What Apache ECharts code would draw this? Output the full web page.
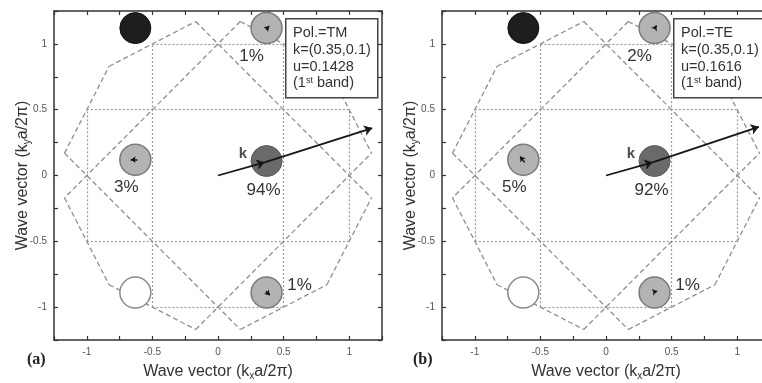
<!DOCTYPE html>
<html>
<head>
<meta charset="utf-8">
<script src="https://cdn.jsdelivr.net/npm/echarts@6/dist/echarts.min.js"></script>
<style>
html, body { margin: 0; padding: 0; background: #fff; }
#chart { width: 762px; height: 383px; }
</style>
</head>
<body>
<div id="chart"></div>
<script>
// circle centres (k + G), same in both panels
const circleX = [-0.63, 0.37, 0.37, -0.63, -0.63, 0.37]
const circleY = [1.12, 1.12, 0.11, 0.12, -0.89, -0.89]
const circleKind = ['black', 'gray', 'dark', 'gray', 'white', 'gray']
const pctA = ['', '1%', '94%', '3%', '', '1%']
const pctB = ['', '2%', '92%', '5%', '', '1%']
const infoA = ['Pol.=TM', 'k=(0.35,0.1)', 'u=0.1428', '(1st band)']
const infoB = ['Pol.=TE', 'k=(0.35,0.1)', 'u=0.1616', '(1st band)']
const kPoint = [0.355, 0.1]
const kLabel = [0.19, 0.165]
const arrowTipA = [1.175, 0.36]
const arrowTipB = [1.165, 0.37]
// little arrows inside the grey circles: [x0, y0, x1, y1]
const smallArrowsA = [[0.365, 1.11, 0.39, 1.135], [-0.615, 0.12, -0.665, 0.12], [0.365, -0.88, 0.395, -0.91]]
const smallArrowsB = [[0.37, 1.115, 0.385, 1.14], [-0.62, 0.1, -0.655, 0.145], [0.365, -0.885, 0.39, -0.88]]
const tickLabels = [-1, -0.5, 0, 0.5, 1]
// dotted zone boundaries: [x0, y0, x1, y1]
const dotted = [
    [-1, -0.5, -1, 0.5], [-0.5, -1, -0.5, 1], [0.5, -1, 0.5, 1], [1, -0.5, 1, 0.5],
    [-0.5, 1, 0.5, 1], [-1, 0.5, 1, 0.5], [-1, -0.5, 1, -0.5], [-0.5, -1, 0.5, -1]
]
// dashed polygon lines
const dashed = [
    [-1.17, 0.17, -0.83, 0.83], [-0.83, 0.83, -0.17, 1.17], [-0.17, 1.17, 1.17, -0.17],
    [0.17, 1.17, -1.17, -0.17], [-1.17, 0.17, 0.17, -1.17], [-1.17, -0.17, -0.83, -0.83],
    [-0.83, -0.83, -0.17, -1.17], [-0.17, -1.17, 1.17, 0.17], [0.17, -1.17, 0.83, -0.83],
    [0.83, -0.83, 1.17, -0.17], [0.17, 1.17, 0.83, 0.83], [0.83, 0.83, 1.17, 0.17]
]

const FONT = 'Liberation Sans, Arial, sans-serif'
const circleStyle = {
    black: {color: '#1e1e1e', borderColor: '#111', borderWidth: 1, opacity: 1},
    gray: {color: '#b3b3b3', borderColor: '#7a7a7a', borderWidth: 1.5, opacity: 1},
    dark: {color: '#6a6a6a', borderColor: '#5a5a5a', borderWidth: 1, opacity: 1},
    white: {color: '#fff', borderColor: '#8a8a8a', borderWidth: 1.5, opacity: 1}
}
const pctOffset = [[0, 0], [-15, 28], [-3, 29], [-9, 28], [0, 0], [33, -7]]

function axes(gi) {
    const common = {
        gridIndex: gi, type: 'value', min: -1.25, max: 1.25, interval: 0.25,
        axisLine: {show: true, onZero: false, lineStyle: {color: '#333', width: 1.5}},
        axisTick: {show: true, inside: true, length: 4, lineStyle: {color: '#333', width: 1.2}},
        splitLine: {show: false}
    }
    const lab = {
        margin: 7, fontSize: 10, color: '#555', fontFamily: FONT,
        formatter: v => tickLabels.includes(v) ? String(v) : ''
    }
    const nameStyle = {
        rich: {
            a: {fontSize: 16, color: '#333', fontFamily: FONT},
            s: {fontSize: 10, color: '#333', fontFamily: FONT, padding: [8, 0, 0, 0]}
        }
    }
    return {
        x: [
            Object.assign({}, common, {
                position: 'bottom', axisLabel: lab,
                name: '{a|Wave vector (k}{s|x}{a|a/2π)}', nameLocation: 'middle', nameGap: 23,
                nameMoveOverlap: false, nameTextStyle: nameStyle
            }),
            Object.assign({}, common, {position: 'top', axisLabel: {show: false}})
        ],
        y: [
            Object.assign({}, common, {
                position: 'left', axisLabel: lab,
                name: '{a|Wave vector (k}{s|y}{a|a/2π)}', nameLocation: 'middle', nameGap: 22,
                nameRotate: 90, nameMoveOverlap: false, nameTextStyle: nameStyle
            }),
            Object.assign({}, common, {position: 'right', axisLabel: {show: false}})
        ]
    }
}

function seriesFor(gi, pct, tip, smallArrows) {
    const ax = {xAxisIndex: gi * 2, yAxisIndex: gi * 2}
    const seg = s => ({coords: [[s[0], s[1]], [s[2], s[3]]]})
    return [
        Object.assign({
            type: 'lines', coordinateSystem: 'cartesian2d', silent: true, z: 2,
            data: dotted.map(seg),
            lineStyle: {color: '#999', width: 1.2, type: [2, 2], opacity: 1}
        }, ax),
        Object.assign({
            type: 'lines', coordinateSystem: 'cartesian2d', silent: true, z: 2,
            data: dashed.map(seg),
            lineStyle: {color: '#8f8f8f', width: 1.3, type: [5, 3], opacity: 1}
        }, ax),
        Object.assign({
            type: 'scatter', symbol: 'circle', symbolSize: 31, silent: true, z: 3,
            data: circleX.map((x, i) => ({
                value: [x, circleY[i]],
                itemStyle: circleStyle[circleKind[i]],
                label: {
                    show: pct[i] !== '', formatter: pct[i], position: 'inside', offset: pctOffset[i],
                    fontSize: 17, color: '#333', fontFamily: FONT
                }
            }))
        }, ax),
        Object.assign({
            type: 'lines', coordinateSystem: 'cartesian2d', silent: true, z: 4,
            symbol: ['none', 'arrow'], symbolSize: 5,
            data: smallArrows.map(seg),
            lineStyle: {color: '#111', width: 1.5, opacity: 1}
        }, ax),
        Object.assign({
            type: 'lines', coordinateSystem: 'cartesian2d', silent: true, z: 5,
            symbol: ['none', 'arrow'], symbolSize: 8,
            data: [seg([0, 0, kPoint[0], kPoint[1]]), seg([kPoint[0], kPoint[1], tip[0], tip[1]])],
            lineStyle: {color: '#151515', width: 1.8, opacity: 1}
        }, ax),
        Object.assign({
            type: 'scatter', symbolSize: 0, silent: true, z: 5,
            data: [{value: kLabel}],
            label: {
                show: true, formatter: 'k', position: 'inside',
                fontSize: 15, fontWeight: 'bold', color: '#222', fontFamily: FONT
            }
        }, ax)
    ]
}

function infoBox(left, lines) {
    const txt = lines.map(l => l.replace('1st', '1{sup|st}')).join('\n')
    return [
        {
            type: 'rect', left: left, top: 18, z: 100,
            shape: {width: 92, height: 79},
            style: {fill: '#fff', stroke: '#444', lineWidth: 1.5}
        },
        {
            type: 'text', left: left + 8, top: 25, z: 101,
            style: {
                text: txt, fontSize: 14.5, lineHeight: 16.7, fill: '#333', fontFamily: FONT,
                rich: {sup: {fontSize: 9, fill: '#333', fontFamily: FONT, padding: [0, 0, 6, 0]}}
            }
        }
    ]
}

const a0 = axes(0), a1 = axes(1)
const option = {
    animation: false,
    backgroundColor: '#fff',
    grid: [
        {left: 54, top: 11, width: 328, height: 329, outerBoundsMode: 'none'},
        {left: 442, top: 11, width: 328, height: 329, outerBoundsMode: 'none'}
    ],
    xAxis: a0.x.concat(a1.x),
    yAxis: a0.y.concat(a1.y),
    series: seriesFor(0, pctA, arrowTipA, smallArrowsA).concat(seriesFor(1, pctB, arrowTipB, smallArrowsB)),
    graphic: infoBox(285, infoA).concat(infoBox(673, infoB)).concat([
        {
            type: 'text', left: 27, top: 352, z: 100,
            style: {text: '(a)', fontSize: 16, fontWeight: 'bold', fill: '#222', fontFamily: 'Liberation Serif, serif'}
        },
        {
            type: 'text', left: 413, top: 352, z: 100,
            style: {text: '(b)', fontSize: 16, fontWeight: 'bold', fill: '#222', fontFamily: 'Liberation Serif, serif'}
        }
    ])
}

const myChart = echarts.init(document.getElementById('chart'))
myChart.setOption(option)
</script>
</body>
</html>
